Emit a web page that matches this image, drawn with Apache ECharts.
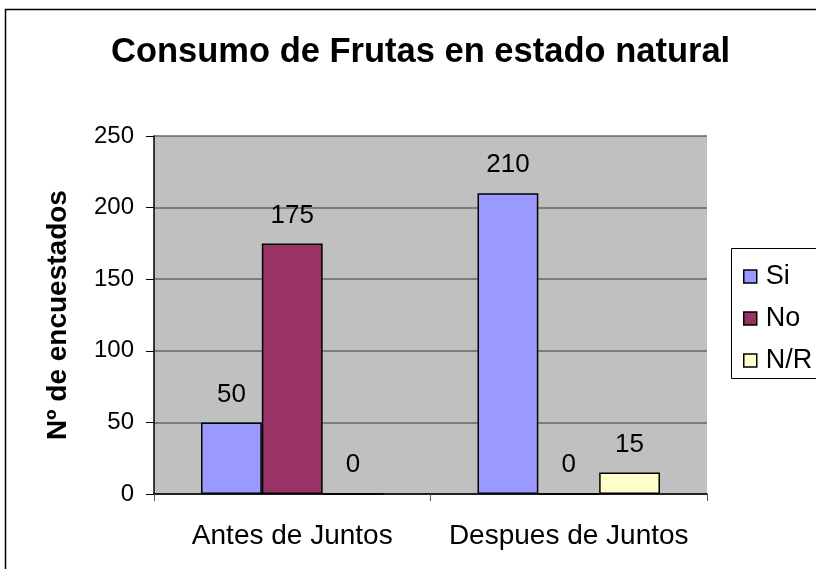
<!DOCTYPE html>
<html>
<head>
<meta charset="utf-8">
<script src="https://cdn.jsdelivr.net/npm/echarts@6/dist/echarts.min.js"></script>
<style>
	html, body { margin: 0; padding: 0; background: #fff; }
	#chart { width: 816px; height: 569px; }
</style>
</head>
<body>
<div id="chart"></div>
<script>
	// datos
	var categorias = ["Antes de Juntos", "Despues de Juntos"];
	var serieSi = [50, 210];
	var serieNo = [175, 0];
	var serieNR = [0, 15];
	var ticksY = [0, 50, 100, 150, 200, 250];

	var fuente = "Liberation Sans, Arial, sans-serif";

	function crearSerie(nombre, datos, color) {
		return {
			name: nombre,
			type: "bar",
			data: datos,
			barGap: 0,
			barCategoryGap: "34%",
			itemStyle: { color: color, borderColor: "#000", borderWidth: 1.5 },
			label: {
				show: true,
				position: "top",
				distance: 15,
				color: "#000",
				fontSize: 26,
				fontFamily: fuente
			}
		};
	}

	var chart = echarts.init(document.getElementById("chart"));
	var option = {
		animation: false,
		backgroundColor: "#fff",
		title: {
			text: "Consumo de Frutas en estado natural",
			left: 106,
			top: 30,
			textStyle: { fontSize: 34.5, fontWeight: "bold", color: "#000", fontFamily: fuente }
		},
		graphic: [{
			type: "rect",
			shape: { x: 5.5, y: 9.5, width: 900, height: 900 },
			style: { fill: "none", stroke: "#000", lineWidth: 1.5 },
			silent: true
		}, {
			type: "rect",
			shape: { x: 731.5, y: 248.5, width: 120, height: 130 },
			style: { fill: "none", stroke: "#000", lineWidth: 1 },
			silent: true
		}],
		legend: {
			orient: "vertical",
			left: 738,
			top: 258,
			itemGap: 15,
			itemWidth: 13,
			itemHeight: 13,
			icon: "rect",
			itemStyle: { borderColor: "#000", borderWidth: 1.5 },
			textStyle: { fontSize: 27, color: "#000", fontFamily: fuente, padding: [0, 0, 0, 4] },
			data: ["Si", "No", "N/R"]
		},
		grid: {
			left: 154,
			right: 109,
			top: 136,
			bottom: 75,
			show: true,
			backgroundColor: "#c0c0c0",
			borderWidth: 0
		},
		xAxis: {
			type: "category",
			data: categorias,
			axisLine: { lineStyle: { color: "#000", width: 1.5 } },
			axisTick: { show: true, length: 7, lineStyle: { color: "#555" } },
			axisLabel: { interval: 0, fontSize: 28, color: "#000", fontFamily: fuente, margin: 28 }
		},
		yAxis: {
			type: "value",
			min: ticksY[0],
			max: ticksY[ticksY.length - 1],
			interval: 50,
			name: "Nº de encuestados",
			nameLocation: "middle",
			nameRotate: 90,
			nameGap: 82,
			nameTextStyle: { fontSize: 28, fontWeight: "bold", color: "#000", fontFamily: fuente },
			axisLine: { show: true, lineStyle: { color: "#000", width: 1.5 } },
			axisTick: { show: true, length: 8, lineStyle: { color: "#000" } },
			axisLabel: { fontSize: 24, color: "#000", fontFamily: fuente, margin: 20 },
			splitLine: { show: true, lineStyle: { color: "#666", width: 1.5 } }
		},
		series: [
			crearSerie("Si", serieSi, "#9999ff"),
			crearSerie("No", serieNo, "#993366"),
			crearSerie("N/R", serieNR, "#ffffcc")
		]
	};
	chart.setOption(option);
</script>
</body>
</html>
